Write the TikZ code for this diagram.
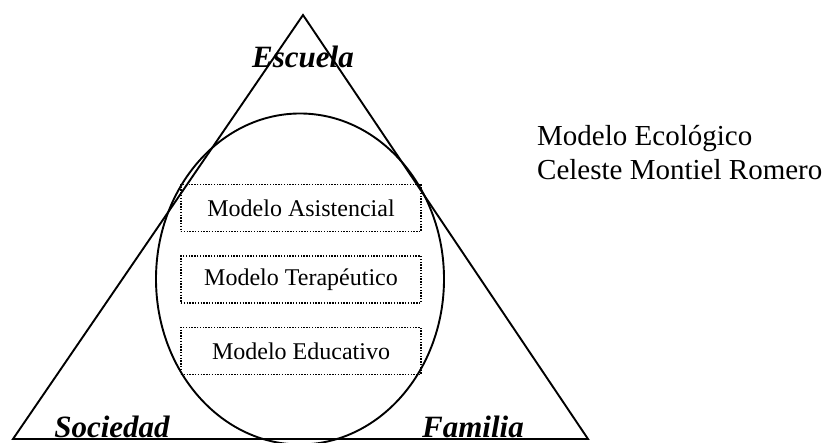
\documentclass[tikz,border=0pt]{standalone}
\usepackage{fontspec}
\usetikzlibrary{shapes.geometric}
\setmainfont{Liberation Serif}
\begin{document}
\begin{tikzpicture}[x=1pt,y=-1pt,
  solid line/.style={line width=1.9pt, line join=miter},
  modelbox/.style={draw, line width=1.5pt, dash pattern=on 1.4pt off 1.4pt, minimum width=240pt, minimum height=47pt, inner sep=0pt, font=\fontsize{24}{28}\selectfont},
  corner label/.style={anchor=base, inner sep=0pt, font=\fontsize{31}{36}\selectfont\bfseries\itshape},
  side text/.style={anchor=base west, inner sep=0pt, font=\fontsize{29}{34}\selectfont}]
\useasboundingbox (0,0) rectangle (827,443);
\coordinate (apex) at (303,15);
\coordinate (bl) at (13,439);
\coordinate (br) at (588,439);
\draw[solid line] (apex) -- (bl) -- (br) -- cycle;
\node[draw, solid line, ellipse, minimum width=288pt, minimum height=331pt, inner sep=0pt] (circ) at (300,279) {};
\node[modelbox] (asis) at (301,208) {Modelo Asistencial};
\node[modelbox] (tera) at (301,279.5) {Modelo Terapéutico};
\node[modelbox] (edu) at (301,351) {Modelo Educativo};
\node[corner label] (esc) at (303,68) {Escuela};
\node[corner label] (soc) at (112,437) {Sociedad};
\node[corner label] (fam) at (473,437) {Familia};
\node[side text] (t1) at (537,146) {Modelo Ecológico};
\node[side text] (t2) at (537,180) {Celeste Montiel Romero};
\end{tikzpicture}
\end{document}
